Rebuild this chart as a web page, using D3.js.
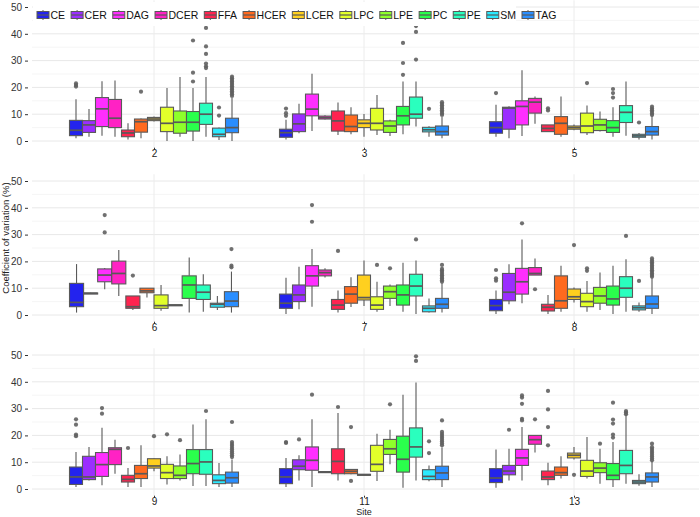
<!DOCTYPE html>
<html><head><meta charset="utf-8">
<script src="https://cdn.jsdelivr.net/npm/d3@7"></script>
<style>body{margin:0;background:#fff}svg{display:block;font-family:"Liberation Sans",Arial,Helvetica,sans-serif}</style>
</head><body><svg id="c" width="700" height="517"></svg>
<script>
const classes = ["CE","CER","DAG","DCER","FFA","HCER","LCER","LPC","LPE","PC","PE","SM","TAG"];
const colors  = ["#2323EE","#9B2EFF","#FF2EFF","#FF22C4","#FF2450","#FF6A1F","#FFD01F","#E2FF2A","#8EFF2A","#2AFF4C","#2AFFBE","#2AEAFF","#2A8EFF"];
const sites = ["2","3","5","6","7","8","9","11","13"];
const yTicks = [0,10,20,30,40,50];

// [low whisker, q1, median, q3, high whisker] per class, null = absent
const s2 = [[1.0,2.0,4.0,7.7,15.6],[1.6,3.2,6.0,7.6,11.9],[2.0,5.4,12.0,16.2,22.3],[1.6,5.0,8.5,15.5,22.6],[0.6,1.6,3.0,4.1,6.6],[1.0,3.3,7.2,8.2,8.4],[7.3,7.6,8.2,8.8,9.1],[0.0,3.5,6.6,12.6,19.8],[1.6,2.9,7.0,11.2,23.9],[0.0,3.7,7.0,11.0,19.8],[1.6,6.2,10.0,14.1,23.9],[0.4,1.6,2.5,4.8,5.0],[0.0,3.1,5.0,8.5,16.0]];
const o2 = [[20.3,20.9,21.5],[],[],[],[],[18.4],[],[],[],[22.2,25.5,37.5],[27.2,27.9,28.9,32.5,35.3,42.2],[9.5,12.5],[16.8,17.4,18.0,18.6,19.2,19.8,20.4,21.0,21.6,22.2,22.8,23.4,24.0]];
const s3 = [[0.6,1.4,3.1,4.4,7.9],[2.9,3.5,6.4,10.1,13.9],[3.7,9.4,11.9,17.5,25.1],[8.0,8.2,8.7,9.3,9.6],[2.2,3.7,7.5,11.2,14.4],[2.5,3.5,5.4,9.7,12.6],[1.6,5.0,6.6,7.9,10.1],[2.2,4.1,6.6,12.2,17.2],[1.9,3.2,5.6,7.5,7.9],[2.5,6.0,9.4,12.9,22.2],[5.4,8.5,10.0,16.4,22.2],[1.6,3.4,4.2,5.1,5.5],[1.0,2.2,3.5,5.6,9.0]];
const o3 = [[9.4,10.4,12.1],[],[],[],[],[],[],[],[],[24.7,29.1,36.6],[30.4,40.7,42.9,43.5],[12.0],[9.7,10.3,10.9,11.5,12.1,12.7,13.3,13.9,14.5]];
const s5 = [[1.6,2.9,5.0,7.2,13.5],[1.0,4.4,12.3,12.6,13.0],[1.9,6.0,12.9,15.0,26.4],[6.4,10.4,14.5,15.9,16.6],[3.5,3.5,4.7,6.0,6.0],[1.6,2.5,6.6,9.1,16.6],[4.0,4.4,5.0,5.6,6.2],[2.2,3.1,5.6,10.4,13.2],[3.5,3.9,6.0,8.1,11.0],[1.6,3.2,5.0,7.6,12.6],[2.0,6.9,10.7,13.2,22.2],[0.6,1.4,1.9,2.5,3.0],[0.6,2.2,3.5,5.4,9.5]];
const o5 = [[17.9],[],[],[],[11.4,12.2],[],[],[21.6],[],[16.2,17.9,19.4],[],[6.9],[9.7,10.3,10.9,11.5,12.1,12.8]];
const s6 = [[0.9,3.1,4.7,11.8,19.0],[7.9,8.0,8.1,8.2,8.3],[9.6,12.4,14.9,17.2,17.5],[7.1,11.6,15.5,20.1,24.3],[1.9,2.5,3.1,7.1,7.1],[6.5,8.3,9.0,10.0,10.0],null,[1.6,2.5,3.5,7.5,11.2],[3.5,3.6,3.7,3.8,3.9],[0.9,6.2,11.2,14.6,21.5],[1.2,5.8,8.5,11.2,15.2],[1.9,2.9,4.0,4.4,7.1],[0.9,3.1,5.2,8.7,16.2]];
const o6 = [[],[],[30.8,37.3],[],[14.7],[],[],[],[],[],[],[],[17.8,18.4,24.6]];
const s7 = [[0.4,2.5,4.4,7.8,13.9],[2.1,5.0,7.5,11.2,18.0],[3.1,10.8,14.6,18.4,24.6],[14.0,14.6,15.8,16.8,17.4],[0.9,2.1,3.7,5.8,9.1],[3.0,4.4,7.8,10.6,14.1],[3.4,5.6,6.5,14.9,20.3],[1.2,2.1,3.7,6.8,12.4],[3.4,6.2,8.7,10.8,11.4],[1.2,3.7,7.5,11.2,19.5],[0.4,7.1,10.8,15.2,20.3],[0.9,1.2,2.5,3.4,6.2],[0.9,2.5,4.0,6.2,12.0]];
const o7 = [[],[],[34.8,41.0],[],[23.9],[],[],[18.7],[17.4],[],[28.2],[],[12.4,13.0,13.6,14.2,14.8,15.4,16.0,16.6,17.2,18.7]];
const s8 = [[0.4,1.6,3.5,5.8,9.1],[4.0,5.3,8.5,15.5,18.9],[4.4,7.8,12.4,17.4,28.2],[14.9,14.9,15.5,17.7,21.1],[0.4,1.5,2.9,4.0,7.5],[1.2,2.5,5.3,14.6,18.4],[4.7,5.8,6.8,9.7,10.3],[1.2,3.1,5.0,8.1,12.7],[1.9,4.4,7.1,10.3,15.9],[0.4,3.7,6.0,10.8,18.4],[1.2,6.6,10.0,14.3,20.8],[1.2,1.9,2.7,3.4,4.7],[0.4,2.5,4.1,7.1,14.0]];
const o8 = [[12.8,13.7,16.8],[],[34.2],[9.6],[],[],[26.1],[16.5,17.4],[],[],[29.5],[12.7],[14.3,14.9,15.5,16.1,16.7,17.3,17.9,18.5,19.1,19.7,20.3,21.1]];
const s9 = [[0.7,1.7,4.5,8.2,13.8],[3.2,3.5,4.5,12.2,15.7],[1.4,4.7,9.1,13.6,22.9],[5.7,9.1,14.8,15.4,18.4],[0.7,2.6,3.6,5.1,7.8],[0.7,3.9,5.7,8.8,16.3],[6.6,7.8,8.6,11.3,11.5],[1.7,3.9,6.1,9.2,12.2],[3.2,3.9,5.1,8.6,12.9],[1.1,5.7,9.5,14.7,24.1],[1.1,5.5,10.1,14.7,26.0],[0.7,2.0,3.2,5.3,9.7],[0.7,2.2,4.2,6.3,11.0]];
const o9 = [[19.7,20.3,24.0,26.0],[],[28.1,30.2],[],[15.3],[],[19.7],[20.4],[18.2],[],[29.1],[],[11.9,12.6,13.3,14.0,14.7,15.4,16.1,16.8,17.5,25.0]];
const s11 = [[0.7,2.0,4.5,7.6,11.6],[3.2,7.2,8.5,10.9,12.6],[0.7,7.0,10.7,15.7,26.0],[6.0,6.1,6.3,6.5,6.6],[3.2,5.7,10.3,15.0,28.4],[5.5,5.7,6.6,7.3,7.5],[5.0,5.1,5.3,5.5,5.6],[3.0,6.6,9.2,16.3,20.6],[9.2,12.9,15.0,18.5,22.1],[0.5,6.3,11.1,19.7,35.2],[3.2,11.9,15.7,22.8,39.7],[2.9,3.5,4.7,7.2,8.8],[0.7,3.5,6.0,8.5,15.5]];
const o11 = [[17.2,17.5],[18.5],[35.2],[],[30.6],[3.0,23.1],[],[],[31.6],[],[47.8,49.5],[13.4,17.8],[16.3,17.0,17.7,18.4,19.1,19.8,20.5,21.3,25.6]];
const s13 = [[0.5,2.4,4.1,7.6,14.7],[3.2,5.3,6.7,8.8,15.0],[3.2,8.8,11.6,14.8,23.1],[13.6,16.7,18.4,20.0,20.0],[1.4,3.5,4.5,6.7,9.8],[3.9,5.1,6.1,8.2,12.2],[11.0,11.6,12.6,13.4,15.7],[3.9,4.7,6.7,10.7,19.4],[2.0,6.1,7.8,9.8,15.0],[0.7,3.5,5.1,9.5,17.5],[2.0,5.7,8.8,14.4,27.5],[1.2,2.0,2.6,3.2,5.5],[0.7,2.6,4.5,6.0,10.5]];
const o13 = [[],[22.1],[25.6,26.2,31.8,34.1,34.9],[26.0],[16.3,23.1,29.7,36.6],[],[5.3],[],[16.9],[19.2,20.3,24.4,25.9,32.2],[27.9,28.5,29.1],[],[10.7,11.4,12.1,12.8,13.5,14.2,14.9,15.6,16.9]];

const statsList = [s2,s3,s5,s6,s7,s8,s9,s11,s13];
const outList = [o2,o3,o5,o6,o7,o8,o9,o11,o13];

const svg = d3.select("#c");
svg.append("rect").attr("width",700).attr("height",517).attr("fill","#fff");

const colX = d3.scaleBand().domain([0,1,2]).range([49,679]);
const rowY = r => d3.scaleLinear().domain([0,50]).range([141+174*r, 7+174*r]);
const color = d3.scaleOrdinal().domain(classes).range(colors);
const stroke = "#595959";
const dodgeHalf = 84.5;

// grid
for (let r=0;r<3;r++){
  const y = rowY(r);
  const g = svg.append("g");
  d3.range(0,51,5).forEach(v=>{
    g.append("line").attr("x1",32).attr("x2",699).attr("y1",y(v)).attr("y2",y(v))
      .attr("stroke", v%10===0 ? "#e8e8e8" : "#f2f2f2").attr("stroke-width", v%10===0?1:0.8);
  });
  for (let c=0;c<3;c++){
    const cx = colX(c)+colX.bandwidth()/2;
    g.append("line").attr("x1",cx).attr("x2",cx).attr("y1",y(52.5)).attr("y2",y(-2.5))
      .attr("stroke","#ececec").attr("stroke-width",1);
  }
  const ax = d3.axisLeft(y).tickValues(yTicks).tickSize(3).tickPadding(3);
  const ag = svg.append("g").attr("transform","translate(28,0)").call(ax);
  ag.select(".domain").remove();
  ag.selectAll("line").attr("stroke","#333");
  ag.selectAll("text").attr("font-size",10).attr("fill","#333").attr("font-family","Liberation Sans, Arial, sans-serif");
}

// panels
sites.forEach((site,i)=>{
  const r = Math.floor(i/3), c = i%3;
  const y = rowY(r);
  const cx = colX(c)+colX.bandwidth()/2;
  const st = statsList[i], ou = outList[i];
  const present = classes.filter((k,j)=>st[j]!==null);
  const xb = d3.scaleBand().domain(present).range([cx-dodgeHalf, cx+dodgeHalf]).padding(0);
  const w = xb.bandwidth();
  const g = svg.append("g");
  classes.forEach((k,j)=>{
    const s = st[j]; if(!s) return;
    const x0 = xb(k), xm = x0 + w/2;
    g.append("line").attr("x1",xm).attr("x2",xm).attr("y1",y(s[0])).attr("y2",y(s[1])).attr("stroke",stroke).attr("stroke-width",1.1);
    g.append("line").attr("x1",xm).attr("x2",xm).attr("y1",y(s[3])).attr("y2",y(s[4])).attr("stroke",stroke).attr("stroke-width",1.1);
    g.append("rect").attr("x",x0).attr("width",w).attr("y",y(s[3])).attr("height",Math.max(1,y(s[1])-y(s[3])))
      .attr("fill",color(k)).attr("stroke",stroke).attr("stroke-width",1.1);
    g.append("line").attr("x1",x0).attr("x2",x0+w).attr("y1",y(s[2])).attr("y2",y(s[2])).attr("stroke",stroke).attr("stroke-width",1.7);
    ou[j].forEach(v=>{
      g.append("circle").attr("cx",xm).attr("cy",y(v)).attr("r",2.1).attr("fill","#606060").attr("fill-opacity",0.9);
    });
  });
  const xs = d3.scalePoint().domain([site]).range([cx,cx]);
  const xg = svg.append("g").attr("transform",`translate(0,${y(-2.5)})`).call(d3.axisBottom(xs).tickSize(2).tickPadding(0.5));
  xg.select(".domain").remove();
  xg.selectAll("line").attr("stroke","#333");
  xg.selectAll("text").attr("font-size",10).attr("fill","#222").attr("font-family","Liberation Sans, Arial, sans-serif");
});

// axis titles
svg.append("text").attr("x",364).attr("y",514.5).attr("text-anchor","middle").attr("font-size",9).attr("fill","#222").text("Site");
svg.append("text").attr("transform","translate(8.5,238) rotate(-90)").attr("text-anchor","middle").attr("font-size",9.5).attr("fill","#222").text("Coefficient of variation (%)");

// legend
const lg = svg.append("g");
lg.append("rect").attr("x",33).attr("y",2).attr("width",483).attr("height",24).attr("fill","#fff");
let lx = 37;
classes.forEach((k)=>{
  const it = lg.append("g").attr("transform",`translate(${lx},15)`);
  it.append("line").attr("x1",6).attr("x2",6).attr("y1",-5).attr("y2",5).attr("stroke",stroke).attr("stroke-width",1);
  it.append("rect").attr("x",0).attr("y",-3.5).attr("width",12).attr("height",7).attr("fill",color(k)).attr("stroke",stroke).attr("stroke-width",1);
  it.append("line").attr("x1",0).attr("x2",12).attr("y1",0).attr("y2",0).attr("stroke",stroke).attr("stroke-width",1.2);
  const t = it.append("text").attr("x",13.5).attr("y",4).attr("font-size",10.5).attr("fill","#111").text(k);
  lx += 13.5 + t.node().getComputedTextLength() + 6;
});
</script></body></html>
